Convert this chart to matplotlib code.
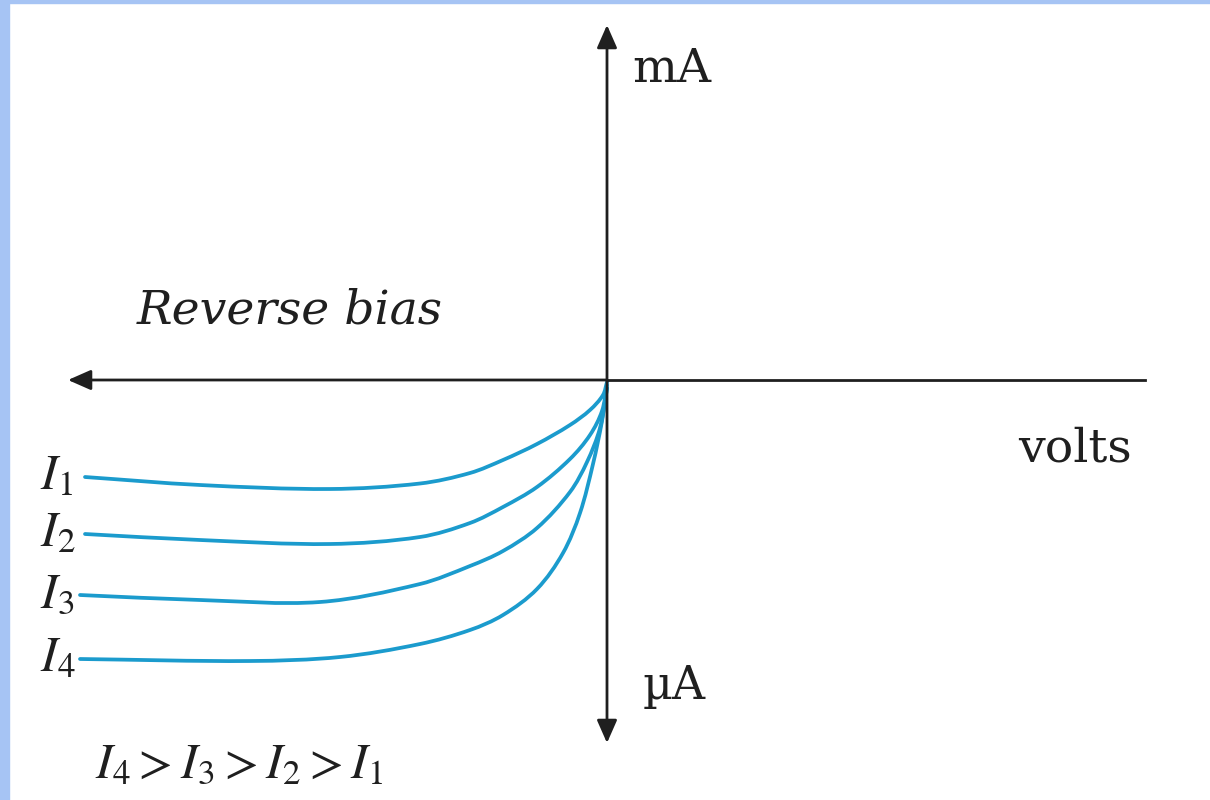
import numpy as np
import matplotlib
matplotlib.use("Agg")
import matplotlib.pyplot as plt
from matplotlib.patches import Rectangle, PathPatch
from matplotlib.path import Path

plt.rcParams["mathtext.fontset"] = "stix"
plt.rcParams["font.family"] = ["DejaVu Serif"]

# ---- data: reverse-bias characteristics ----
# x: voltage (arb. units, 0 at origin), y: current (arb. units)
V1 = [-5.22, -4.07, -2.77, -1.87, -1.37, -1.04, -0.70, -0.37, -0.17, -0.04, 0.0]
I1 = [-0.97, -1.05, -1.09, -1.035, -0.93, -0.80, -0.64, -0.45, -0.30, -0.15, -0.02]

V2 = [-5.22, -4.07, -2.77, -1.87, -1.37, -1.04, -0.70, -0.37, -0.17, -0.05, 0.0]
I2 = [-1.54, -1.60, -1.64, -1.57, -1.43, -1.27, -1.07, -0.79, -0.55, -0.31, -0.05]

V3 = [-5.27, -4.07, -2.87, -1.87, -1.37, -1.04, -0.70, -0.37, -0.20, -0.07, 0.0]
I3 = [-2.15, -2.20, -2.22, -2.04, -1.86, -1.71, -1.48, -1.12, -0.82, -0.48, -0.08]

V4 = [-5.27, -3.57, -2.67, -1.87, -1.37, -1.04, -0.70, -0.44, -0.27, -0.14, -0.05, 0.0]
I4 = [-2.79, -2.81, -2.77, -2.64, -2.50, -2.35, -2.09, -1.73, -1.33, -0.84, -0.41, -0.08]

curves = [(V1, I1), (V2, I2), (V3, I3), (V4, I4)]
curve_labels = [r"$I_1$", r"$I_2$", r"$I_3$", r"$I_4$"]

# axis extents (same units)
X_LEFT, X_RIGHT = -5.39, 5.38
Y_BOTTOM, Y_TOP = -3.63, 3.55

CURVE_COLOR = "#1b9bcd"
INK = "#1f1f1f"


def smooth_path(xs, ys):
    """Smooth Bezier path through the read points (tangents from neighbours,
    handle length a third of each chord, so uneven spacing does not wobble)."""
    p = np.column_stack([xs, ys]).astype(float)
    n = len(p)
    tang = np.zeros_like(p)
    for k in range(n):
        d = p[min(k + 1, n - 1)] - p[max(k - 1, 0)]
        tang[k] = d / np.hypot(*d)
    verts = [p[0]]
    codes = [Path.MOVETO]
    for k in range(n - 1):
        L = np.hypot(*(p[k + 1] - p[k])) / 3.0
        verts += [p[k] + tang[k] * L, p[k + 1] - tang[k + 1] * L, p[k + 1]]
        codes += [Path.CURVE4] * 3
    return Path(verts, codes)


fig = plt.figure(figsize=(12.1, 8.0), dpi=100)
ax = fig.add_axes([0, 0, 1, 1])
ax.set_xlim(-6.07, 6.03)
ax.set_ylim(-4.20, 3.80)
ax.axis("off")

# light blue frame on left/top edge
fig.patches.append(Rectangle((0, 0), 9 / 1210, 1, transform=fig.transFigure,
                             color="#a6c4f4", zorder=0))
fig.patches.append(Rectangle((0, 1 - 3 / 800), 1, 3 / 800, transform=fig.transFigure,
                             color="#a6c4f4", zorder=0))

# axes with arrows
ax.plot([0, X_RIGHT], [0, 0], color=INK, lw=2.0, zorder=3)
ax.annotate("", xy=(X_LEFT, 0), xytext=(0, 0),
            arrowprops=dict(arrowstyle="-|>,head_length=0.5,head_width=0.22",
                            mutation_scale=28, lw=2.0, color=INK,
                            shrinkA=0, shrinkB=0), zorder=3)
ax.annotate("", xy=(0, Y_TOP), xytext=(0, Y_BOTTOM),
            arrowprops=dict(arrowstyle="<|-|>,head_length=0.5,head_width=0.22",
                            mutation_scale=28, lw=2.0, color=INK,
                            shrinkA=0, shrinkB=0), zorder=3)

# characteristic curves
for v, i in curves:
    ax.add_patch(PathPatch(smooth_path(v, i), fill=False, edgecolor=CURVE_COLOR,
                           lw=2.7, capstyle="round", zorder=2))

# curve labels at the left end
for (v, i), lab in zip(curves, curve_labels):
    ax.text(-5.67, i[0] - 0.12, lab, fontsize=36, ha="left", va="baseline",
            color=INK)

# axis annotations
ax.text(0.25, 2.98, "mA", fontsize=34, ha="left", va="baseline", color=INK)
ax.text(0.36, -3.19, "\u00b5A", fontsize=33, ha="left", va="baseline", color=INK)
ax.text(4.11, -0.82, "volts", fontsize=34, ha="left", va="baseline", color=INK)
ax.text(-4.70, 0.57, "Reverse bias", fontsize=34, style="italic",
        ha="left", va="baseline", color=INK)
ax.text(-5.12, -3.97, r"$I_4 > I_3 > I_2 > I_1$", fontsize=36,
        ha="left", va="baseline", color=INK)

fig.savefig("out.png", dpi=100)
